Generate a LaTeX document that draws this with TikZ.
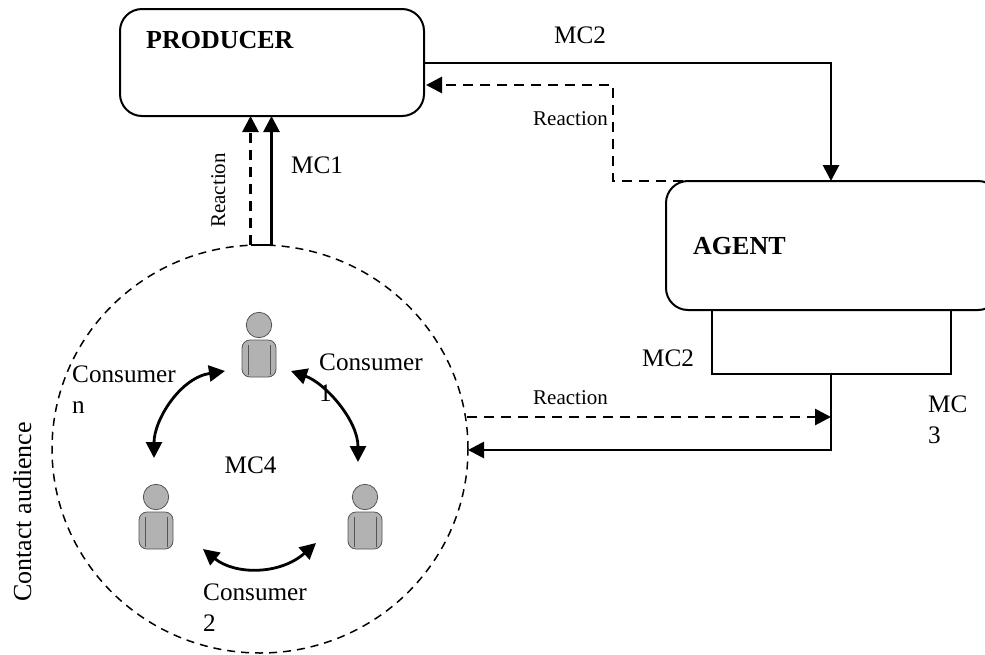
\documentclass[tikz,border=0pt]{standalone}
\usepackage{fontspec}
\setmainfont{Liberation Serif}
\usetikzlibrary{arrows.meta,shapes.geometric}
\definecolor{ink}{HTML}{000000}
\definecolor{persongrey}{HTML}{B2B2B2}
\definecolor{personline}{HTML}{555555}
\tikzset{
  box/.style={draw=ink,line width=2pt,fill=none,inner sep=0pt,outer sep=0pt},
  rbox/.style={box,rounded corners=22pt},
  crowd/.style={draw=ink,line width=1.5pt,dash pattern=on 8pt off 6pt,ellipse,inner sep=0pt,outer sep=0pt,minimum width=416pt,minimum height=408pt},
  solidflow/.style={draw=ink,line width=2.8pt,-{Triangle[length=16pt,width=16pt]}},
  dashflow/.style={draw=ink,line width=2.8pt,dash pattern=on 10pt off 7pt,-{Triangle[length=16pt,width=16pt]}},
  swap/.style={draw=ink,line width=2.8pt,{Triangle[length=16pt,width=16pt]}-{Triangle[length=16pt,width=16pt]}},
  lab/.style={anchor=base west,inner sep=0pt,font=\fontsize{25.2}{31}\selectfont,text=ink},
  side/.style={anchor=base west,inner sep=0pt,font=\fontsize{26}{31}\selectfont,text=ink},
  small/.style={anchor=base west,inner sep=0pt,font=\fontsize{21}{25}\selectfont,text=ink},
  heavy/.style={anchor=base west,inner sep=0pt,font=\fontsize{26}{31}\selectfont\bfseries,text=ink},
  person/.pic={
    \draw[draw=personline,line width=0.8pt,fill=persongrey] (0,0) circle[radius=12.7pt];
    \draw[draw=personline,line width=0.8pt,fill=persongrey,rounded corners=8pt] (-17,15) rectangle (17,52);
    \draw[draw=personline,line width=0.8pt] (-11,20) -- (-11,50) (11,20) -- (11,50);
  }
}
\begin{document}
\begin{tikzpicture}[x=1pt,y=-1pt]
\useasboundingbox (0,0) rectangle (985,654);
\clip (0,0) rectangle (985,654);
% boxes
\node[rbox,minimum width=304pt,minimum height=107pt] (producer) at (272,62.5) {};
\node[rbox,minimum width=334pt,minimum height=129pt] (agent) at (833,245.5) {};
\node[box,minimum width=239pt,minimum height=64pt] (sub) at (831.5,342) {};
\node[crowd] (aud) at (260,449) {};
% people
\pic at (259,325) {person};
\pic at (156,497) {person};
\pic at (365,497) {person};
% free ends
\coordinate (a1) at (271.5,245);
\coordinate (a2) at (271.5,116);
\coordinate (b1) at (250.5,245);
\coordinate (b2) at (250.5,116);
\coordinate (c1) at (424,63);
\coordinate (c2) at (831,63);
\coordinate (c3) at (831,181);
\coordinate (d1) at (802,181);
\coordinate (d2) at (613,181);
\coordinate (d3) at (613,85);
\coordinate (d4) at (426,85);
\coordinate (e1) at (831,374);
\coordinate (e2) at (831,450);
\coordinate (e3) at (468,450);
\coordinate (f1) at (467,417);
\coordinate (f2) at (831,417);
\coordinate (g1) at (225,371);
\coordinate (g2) at (154,458);
\coordinate (h1) at (291,371);
\coordinate (h2) at (358,462);
\coordinate (i1) at (203,549);
\coordinate (i2) at (316,543);
% connectors
\draw[solidflow] (a1) -- (a2);
\draw[dashflow] (b1) -- (b2);
\draw[solidflow] (c1) -- (c2) -- (c3);
\draw[dashflow] (d1) -- (d2) -- (d3) -- (d4);
\draw[solidflow] (e1) -- (e2) -- (e3);
\draw[dashflow] (f1) -- (f2);
\draw[draw=ink,line width=1.5pt] (b1) -- (a1);
\draw[swap] (g1) .. controls (180,378) and (154,420) .. (g2);
\draw[swap] (h1) .. controls (325,383) and (358,420) .. (h2);
\draw[swap] (i1) .. controls (235,575) and (280,575) .. (i2);
% labels
\node[heavy] (tproducer) at (146,48) {PRODUCER};
\node[heavy] (tagent) at (693,254) {AGENT};
\node[lab] (tmc2a) at (554,43) {MC2};
\node[lab] (tmc1) at (291,173) {MC1};
\node[lab] (tmc2b) at (642,366) {MC2};
\node[lab] (tmc3a) at (928,412) {MC};
\node[lab] (tmc3b) at (928,443) {3};
\node[lab] (tmc4) at (224.5,473) {MC4};
\node[lab] (tc1a) at (319,370) {Consumer};
\node[lab] (tc1b) at (319,401) {1};
\node[lab] (tcna) at (72,382) {Consumer};
\node[lab] (tcnb) at (72,413) {n};
\node[lab] (tc2a) at (203,600) {Consumer};
\node[lab] (tc2b) at (203,631) {2};
\node[small] (tr1) at (533,125) {Reaction};
\node[small] (tr2) at (533,404) {Reaction};
\node[small,rotate=90] (tr3) at (225,228) {Reaction};
\node[side,rotate=90] (taud) at (31,602) {Contact audience};
\end{tikzpicture}
\end{document}
